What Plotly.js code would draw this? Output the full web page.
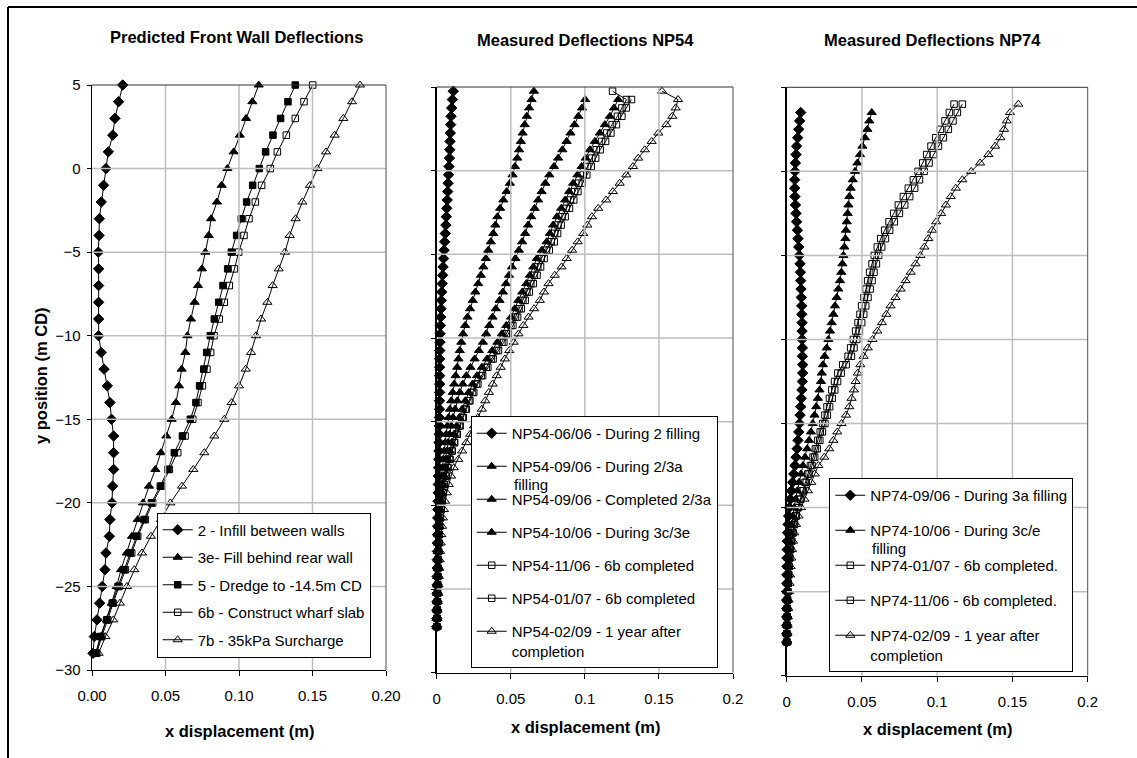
<!DOCTYPE html>
<html>
<head>
<meta charset="utf-8">
<script src="https://cdn.plot.ly/plotly-3.0.1.min.js"></script>
<style>html,body{margin:0;padding:0;background:#fff;}#chart{width:1137px;height:758px;}</style>
</head>
<body>
<div id="chart"></div>
<script>
// ---------------- DATA ----------------
// Panel 1: predicted (y every 1 m)
const yPred = [5,4,3,2,1,0,-1,-2,-3,-4,-5,-6,-7,-8,-9,-10,-11,-12,-13,-14,-15,-16,-17,-18,-19,-20,-21,-22,-23,-24,-25,-26,-27,-28,-29];
const pred2  = [0.0209,0.0181,0.0156,0.0141,0.0111,0.0095,0.0079,0.0063,0.0050,0.0048,0.0043,0.0045,0.0045,0.0045,0.0045,0.0045,0.0063,0.0082,0.0104,0.0122,0.0133,0.0147,0.0147,0.0147,0.0140,0.0136,0.0122,0.0118,0.0095,0.0088,0.0070,0.0052,0.0034,0.0016,0.0007];
const pred3e = [0.1134,0.1091,0.1048,0.1005,0.0964,0.0921,0.0882,0.0850,0.0810,0.0794,0.0771,0.0748,0.0721,0.0698,0.0673,0.0649,0.0635,0.0610,0.0592,0.0571,0.0542,0.0506,0.0469,0.0431,0.0388,0.0347,0.0311,0.0272,0.0236,0.0197,0.0168,0.0134,0.0100,0.0061,0.0025];
const pred5  = [0.1383,0.1333,0.1283,0.1231,0.1181,0.1138,0.1093,0.1052,0.1016,0.0984,0.0948,0.0923,0.0891,0.0862,0.0832,0.0805,0.0780,0.0760,0.0732,0.0707,0.0669,0.0615,0.0560,0.0517,0.0465,0.0404,0.0354,0.0304,0.0261,0.0218,0.0177,0.0138,0.0100,0.0057,0.0025];
const pred6b = [0.1501,0.1442,0.1383,0.1322,0.1261,0.1213,0.1154,0.1111,0.1068,0.1034,0.0998,0.0969,0.0934,0.0900,0.0866,0.0830,0.0807,0.0782,0.0751,0.0721,0.0685,0.0633,0.0583,0.0526,0.0474,0.0413,0.0363,0.0311,0.0270,0.0227,0.0184,0.0143,0.0107,0.0066,0.0032];
const pred7b = [0.1823,0.1769,0.1710,0.1651,0.1592,0.1533,0.1483,0.1431,0.1385,0.1345,0.1313,0.1270,0.1229,0.1193,0.1150,0.1116,0.1082,0.1046,0.1000,0.0950,0.0900,0.0832,0.0764,0.0689,0.0612,0.0533,0.0469,0.0401,0.0340,0.0288,0.0238,0.0190,0.0145,0.0091,0.0045];
const predNames = ["2 - Infill between walls","3e- Fill behind rear wall","5 - Dredge to -14.5m CD","6b - Construct wharf slab","7b - 35kPa Surcharge"];

// Panel 2: NP54 measured (y every 0.5 m)
const y54 = [4.75,4.25,3.75,3.25,2.75,2.25,1.75,1.25,0.75,0.25,
 -0.25,-0.75,-1.25,-1.75,-2.25,-2.75,-3.25,-3.75,-4.25,-4.75,
 -5.25,-5.75,-6.25,-6.75,-7.25,-7.75,-8.25,-8.75,-9.25,-9.75,
 -10.25,-10.75,-11.25,-11.75,-12.25,-12.75,-13.25,-13.75,-14.25,-14.75,
 -15.25,-15.75,-16.25,-16.75,-17.25,-17.75,-18.25,-18.75,-19.25,-19.75,
 -20.25,-20.75,-21.25,-21.75,-22.25,-22.75,-23.25,-23.75,-24.25,-24.75,
 -25.25,-25.75,-26.25,-26.75,-27.25];
const np54_0606 = [0.0112,0.0106,0.0101,0.0097,0.0094,0.0092,0.0090,0.0088,0.0086,0.0083,
 0.0080,0.0077,0.0074,0.0071,0.0068,0.0065,0.0062,0.0058,0.0054,0.0050,
 0.0046,0.0043,0.0040,0.0037,0.0034,0.0031,0.0029,0.0027,0.0025,0.0023,
 0.0022,0.0021,0.0020,0.0020,0.0020,0.0020,0.0020,0.0019,0.0019,0.0018,
 0.0018,0.0017,0.0016,0.0015,0.0014,0.0013,0.0012,0.0011,0.0010,0.0009,
 0.0008,0.0007,0.0006,0.0006,0.0005,0.0005,0.0004,0.0004,0.0003,0.0003,
 0.0002,0.0002,0.0001,0.0001,0.0000];
const np54_0906a = [0.0656,0.0640,0.0624,0.0608,0.0594,0.0580,0.0568,0.0556,0.0544,0.0528,
 0.0512,0.0494,0.0472,0.0450,0.0428,0.0410,0.0396,0.0382,0.0365,0.0348,
 0.0332,0.0315,0.0298,0.0280,0.0261,0.0243,0.0225,0.0208,0.0192,0.0178,
 0.0166,0.0156,0.0147,0.0138,0.0128,0.0118,0.0108,0.0098,0.0089,0.0080,
 0.0072,0.0064,0.0057,0.0050,0.0044,0.0038,0.0033,0.0028,0.0024,0.0020,
 0.0017,0.0014,0.0012,0.0010,0.0009,0.0008,0.0007,0.0006,0.0005,0.0004,
 0.0004,0.0003,0.0002,0.0001,0.0000];
const np54_0906b = [null,0.1002,0.0981,0.0956,0.0930,0.0903,0.0877,0.0848,0.0820,0.0792,
 0.0760,0.0733,0.0708,0.0685,0.0661,0.0638,0.0617,0.0597,0.0577,0.0555,
 0.0531,0.0508,0.0488,0.0468,0.0447,0.0424,0.0399,0.0377,0.0355,0.0334,
 0.0312,0.0285,0.0256,0.0228,0.0200,0.0176,0.0156,0.0139,0.0124,0.0110,
 0.0098,0.0087,0.0077,0.0068,0.0060,0.0052,0.0045,0.0039,0.0033,0.0028,
 0.0024,0.0020,0.0017,0.0014,0.0012,0.0010,0.0009,0.0008,0.0007,0.0006,
 0.0005,0.0004,0.0003,0.0002,0.0001];
const np54_1006 = [null,0.1225,0.1197,0.1169,0.1135,0.1101,0.1068,0.1034,0.1006,0.0978,
 0.0950,0.0921,0.0894,0.0867,0.0840,0.0812,0.0786,0.0764,0.0742,0.0710,
 0.0676,0.0652,0.0629,0.0605,0.0578,0.0551,0.0526,0.0502,0.0470,0.0440,
 0.0410,0.0375,0.0340,0.0305,0.0272,0.0242,0.0216,0.0193,0.0172,0.0153,
 0.0135,0.0118,0.0102,0.0088,0.0075,0.0063,0.0052,0.0043,0.0035,0.0029,
 0.0024,0.0020,0.0016,0.0013,0.0011,0.0009,0.0008,0.0007,0.0006,0.0005,
 0.0004,0.0003,0.0002,0.0001,0.0001];
const np54_1106 = [0.1187,0.1281,0.1250,0.1220,0.1184,0.1148,0.1113,0.1077,0.1047,0.1018,
 0.0989,0.0959,0.0931,0.0903,0.0875,0.0846,0.0819,0.0796,0.0773,0.0741,
 0.0706,0.0682,0.0659,0.0635,0.0608,0.0581,0.0556,0.0532,0.0500,0.0470,
 0.0440,0.0404,0.0369,0.0334,0.0300,0.0269,0.0242,0.0217,0.0194,0.0174,
 0.0154,0.0135,0.0118,0.0102,0.0087,0.0074,0.0062,0.0051,0.0042,0.0035,
 0.0029,0.0024,0.0019,0.0016,0.0013,0.0011,0.0009,0.0008,0.0007,0.0006,
 0.0005,0.0004,0.0003,0.0002,0.0001];
const np54_0107 = [null,0.1315,0.1280,0.1250,0.1213,0.1176,0.1140,0.1103,0.1073,0.1043,
 0.1013,0.0982,0.0953,0.0925,0.0896,0.0867,0.0840,0.0816,0.0793,0.0760,
 0.0725,0.0701,0.0677,0.0652,0.0625,0.0597,0.0571,0.0546,0.0514,0.0484,
 0.0453,0.0417,0.0381,0.0345,0.0310,0.0278,0.0250,0.0224,0.0200,0.0179,
 0.0158,0.0139,0.0121,0.0105,0.0090,0.0076,0.0064,0.0053,0.0044,0.0036,
 0.0030,0.0025,0.0020,0.0017,0.0014,0.0012,0.0010,0.0009,0.0008,0.0007,
 0.0006,0.0005,0.0004,0.0003,0.0002];
const np54_0209 = [0.1521,0.1629,0.1613,0.1590,0.1550,0.1496,0.1451,0.1405,0.1360,0.1325,
 0.1280,0.1235,0.1189,0.1144,0.1090,0.1048,0.1017,0.0989,0.0952,0.0914,
 0.0877,0.0843,0.0797,0.0755,0.0724,0.0696,0.0658,0.0620,0.0585,0.0552,
 0.0520,0.0490,0.0460,0.0432,0.0405,0.0378,0.0352,0.0328,0.0305,0.0278,
 0.0252,0.0226,0.0200,0.0172,0.0146,0.0115,0.0097,0.0081,0.0068,0.0057,
 0.0049,0.0042,0.0036,0.0031,0.0027,0.0023,0.0020,0.0017,0.0014,0.0012,
 0.0010,0.0008,0.0006,0.0004,0.0002];
const np54Names = ["NP54-06/06 - During 2 filling","NP54-09/06 - During 2/3a","NP54-09/06 - Completed 2/3a","NP54-10/06 - During 3c/3e","NP54-11/06 - 6b completed","NP54-01/07 - 6b completed","NP54-02/09 - 1 year after<br>completion"];

// Panel 3: NP74 measured (y every 0.5 m)
const y74 = [4,3.5,3,2.5,2,1.5,1,0.5,0,-0.5,
 -1,-1.5,-2,-2.5,-3,-3.5,-4,-4.5,-5,-5.5,
 -6,-6.5,-7,-7.5,-8,-8.5,-9,-9.5,-10,-10.5,
 -11,-11.5,-12,-12.5,-13,-13.5,-14,-14.5,-15,-15.5,
 -16,-16.5,-17,-17.5,-18,-18.5,-19,-19.5,-20,-20.5,
 -21,-21.5,-22,-22.5,-23,-23.5,-24,-24.5,-25,-25.5,
 -26,-26.5,-27,-27.5,-28];
const np74_0906 = [null,0.0093,0.0086,0.0080,0.0073,0.0066,0.0062,0.0058,0.0055,0.0053,
 0.0053,0.0055,0.0058,0.0062,0.0066,0.0071,0.0075,0.0080,0.0084,0.0089,
 0.0091,0.0093,0.0095,0.0097,0.0100,0.0100,0.0102,0.0102,0.0102,0.0104,
 0.0104,0.0106,0.0106,0.0104,0.0101,0.0097,0.0093,0.0089,0.0085,0.0080,
 0.0075,0.0069,0.0062,0.0055,0.0047,0.0039,0.0031,0.0024,0.0018,0.0013,
 0.0009,0.0006,0.0004,0.0003,0.0002,0.0002,0.0001,0.0001,0.0001,0.0000,
 0.0000,0.0000,0.0000,0.0000,0.0000];
const np74_1006 = [null,0.0565,0.0549,0.0536,0.0520,0.0503,0.0487,0.0470,0.0454,0.0439,
 0.0425,0.0416,0.0410,0.0405,0.0399,0.0394,0.0390,0.0383,0.0377,0.0370,
 0.0363,0.0354,0.0343,0.0332,0.0321,0.0310,0.0299,0.0288,0.0277,0.0266,
 0.0252,0.0241,0.0233,0.0228,0.0218,0.0207,0.0196,0.0185,0.0173,0.0161,
 0.0149,0.0136,0.0122,0.0108,0.0095,0.0082,0.0070,0.0059,0.0049,0.0040,
 0.0032,0.0025,0.0019,0.0014,0.0010,0.0008,0.0006,0.0005,0.0004,0.0003,
 0.0002,0.0002,0.0001,0.0001,0.0000];
const np74_0107 = [0.1112,0.1081,0.1052,0.1021,0.0990,0.0959,0.0930,0.0904,0.0873,0.0842,
 0.0808,0.0775,0.0742,0.0711,0.0680,0.0651,0.0625,0.0602,0.0582,0.0567,
 0.0551,0.0538,0.0527,0.0514,0.0498,0.0487,0.0474,0.0458,0.0443,0.0425,
 0.0408,0.0372,0.0340,0.0318,0.0300,0.0284,0.0268,0.0254,0.0239,0.0223,
 0.0207,0.0191,0.0175,0.0158,0.0140,0.0122,0.0104,0.0088,0.0073,0.0060,
 0.0049,0.0039,0.0031,0.0024,0.0019,0.0015,0.0012,0.0009,0.0007,0.0005,
 0.0004,0.0003,0.0002,0.0001,0.0001];
const np74_1106 = [0.1167,0.1134,0.1105,0.1074,0.1041,0.1008,0.0975,0.0946,0.0913,0.0882,
 0.0850,0.0817,0.0784,0.0749,0.0715,0.0684,0.0656,0.0631,0.0611,0.0596,
 0.0580,0.0567,0.0554,0.0540,0.0525,0.0512,0.0498,0.0483,0.0465,0.0447,
 0.0430,0.0395,0.0362,0.0338,0.0319,0.0302,0.0285,0.0270,0.0254,0.0237,
 0.0220,0.0203,0.0186,0.0168,0.0149,0.0130,0.0111,0.0094,0.0078,0.0064,
 0.0052,0.0042,0.0033,0.0026,0.0020,0.0016,0.0013,0.0010,0.0008,0.0006,
 0.0004,0.0003,0.0002,0.0001,0.0001];
const np74_0209 = [0.1539,0.1484,0.1462,0.1444,0.1420,0.1385,0.1340,0.1285,0.1226,0.1167,
 0.1124,0.1090,0.1058,0.1026,0.0993,0.0966,0.0941,0.0915,0.0888,0.0856,
 0.0824,0.0790,0.0757,0.0723,0.0690,0.0662,0.0633,0.0602,0.0570,0.0539,
 0.0511,0.0489,0.0472,0.0458,0.0446,0.0431,0.0416,0.0394,0.0364,0.0336,
 0.0310,0.0283,0.0250,0.0210,0.0186,0.0163,0.0141,0.0118,0.0096,0.0078,
 0.0062,0.0050,0.0042,0.0036,0.0031,0.0026,0.0022,0.0019,0.0016,0.0013,
 0.0010,0.0008,0.0006,0.0004,0.0002];
const np74Names = ["NP74-09/06 - During 3a filling","NP74-10/06 - During 3c/e","NP74-01/07 - 6b completed.","NP74-11/06 - 6b completed.","NP74-02/09 - 1 year after<br>completion"];

const panelTitles = ["Predicted Front Wall Deflections","Measured Deflections NP54","Measured Deflections NP74"];
const xTitle = "x displacement (m)";
const yTitle = "y position (m CD)";
const wrapTail = "filling";
const xTicks = [0, 0.05, 0.1, 0.15, 0.2];
const yTicks = [5, 0, -5, -10, -15, -20, -25, -30];

// ---------------- STYLE / LAYOUT ----------------
const W = 1137, H = 758;
const px = v => v / W;
const py = v => 1 - v / H;
const FONT = "Liberation Sans, Arial, sans-serif";
const GRID = '#bdbdbd';

const SYM = {
  dia:  {symbol:'diamond', size:8},
  tri:  {symbol:'triangle-up', size:8},
  sq:   {symbol:'square', size:6.5},
  sqo:  {symbol:'square-open', size:6.5},
  trio: {symbol:'triangle-up-open', size:8}
};

const traces = [];
function add(xs, ys, name, s, ax, lg, gi) {
  traces.push({
    type:'scatter', mode:'lines+markers', x:xs, y:ys, name:name,
    xaxis:'x'+ax, yaxis:'y'+ax, legend:lg, legendgroup:lg+'_'+gi,
    cliponaxis:false, connectgaps:false,
    line:{color:'#000', width:1},
    marker:{symbol:SYM[s].symbol, size:SYM[s].size, color:'#000', line:{color:'#000', width:1}}
  });
}
const predSeries = [pred2, pred3e, pred5, pred6b, pred7b];
const predSyms = ['dia','tri','sq','sqo','trio'];
predSeries.forEach((s,i)=>add(s, yPred, predNames[i], predSyms[i], '', 'legend', i));

const np54Series = [np54_0606, np54_0906a, np54_0906b, np54_1006, np54_1106, np54_0107, np54_0209];
const np54Syms = ['dia','tri','tri','tri','sqo','sqo','trio'];
np54Series.forEach((s,i)=>add(s, y54, np54Names[i], np54Syms[i], '2', 'legend2', i));

const np74Series = [np74_0906, np74_1006, np74_0107, np74_1106, np74_0209];
const np74Syms = ['dia','tri','sqo','sqo','trio'];
np74Series.forEach((s,i)=>add(s, y74, np74Names[i], np74Syms[i], '3', 'legend3', i));

function xax(d, anchor, fmt) {
  return {domain:d, anchor:anchor, range:[0,0.2], tickmode:'array', tickvals:xTicks, tickformat:fmt,
    showgrid:false, zeroline:false,
    showline:true, linecolor:'#000', linewidth:1.3, ticks:'outside', ticklen:5, tickcolor:'#000', tickwidth:1,
    ticklabelstandoff:7, tickfont:{family:FONT, size:15, color:'#000'}, fixedrange:true};
}
function yax(d, anchor, labels) {
  return {domain:d, anchor:anchor, range:[-30,5], tickmode:'array', tickvals:yTicks,
    showgrid:false, zeroline:false,
    showline:true, linecolor:'#000', linewidth:1.3, ticks:'outside', ticklen:4, tickcolor:'#000', tickwidth:1,
    showticklabels:labels, ticklabelstandoff:3, tickfont:{family:FONT, size:15, color:'#000'}, fixedrange:true};
}
function legendBox(x, y, gap) {
  return {x:px(x), y:py(y), xanchor:'left', yanchor:'top', xref:'paper', yref:'paper',
    bgcolor:'#fff', bordercolor:'#000', borderwidth:1, traceorder:'grouped', tracegroupgap:gap,
    valign:'top', font:{family:FONT, size:15, color:'#000'}};
}
function ann(text, x, y, size, bold, extra) {
  return Object.assign({text: bold ? '<b>'+text+'</b>' : text, x:px(x), y:py(y), xref:'paper', yref:'paper',
    showarrow:false, xanchor:'center', yanchor:'middle', font:{family:FONT, size:size, color:'#000'}}, extra||{});
}
// grid lines as axis-referenced shapes at the tick values
function gridShapes(ax) {
  const out = [];
  xTicks.slice(1, -1).forEach(v => out.push({type:'line', xref:'x'+ax, yref:'y'+ax+' domain', x0:v, x1:v, y0:0, y1:1,
    line:{color:GRID, width:1.5}, layer:'above'}));
  yTicks.slice(1, -1).forEach(v => out.push({type:'line', xref:'x'+ax+' domain', yref:'y'+ax, x0:0, x1:1, y0:v, y1:v,
    line:{color:GRID, width:1.5}, layer:'above'}));
  return out;
}

const layout = {
  width:W, height:H, margin:{l:0,r:0,t:0,b:0}, paper_bgcolor:'#fff', plot_bgcolor:'#fff',
  showlegend:true, font:{family:FONT, color:'#000'},
  xaxis:  xax([px(92), px(386)], 'y', '.2f'),
  yaxis:  yax([py(670), py(85)], 'x', true),
  xaxis2: xax([px(436.7), px(733)], 'y2', ''),
  yaxis2: yax([py(672.7), py(87)], 'x2', false),
  xaxis3: xax([px(786.7), px(1087.7)], 'y3', ''),
  yaxis3: yax([py(675.7), py(87.3)], 'x3', false),
  legend:  legendBox(156.7, 512.5, 5),
  legend2: legendBox(470.7, 416, 10.5),
  legend3: legendBox(829.3, 478, 12.5),
  shapes:[].concat(gridShapes(''), gridShapes('2'), gridShapes('3'), [
    {type:'line', xref:'paper', yref:'paper', x0:px(386), x1:px(386), y0:py(670), y1:py(85), line:{color:'#505050', width:1}},
    {type:'line', xref:'paper', yref:'paper', x0:px(92), x1:px(386), y0:py(85), y1:py(85), line:{color:'#303030', width:1}},
    {type:'line', xref:'paper', yref:'paper', x0:px(733), x1:px(733), y0:py(672.7), y1:py(87), line:{color:'#505050', width:1}},
    {type:'line', xref:'paper', yref:'paper', x0:px(436.7), x1:px(733), y0:py(87), y1:py(87), line:{color:'#303030', width:1}},
    {type:'line', xref:'paper', yref:'paper', x0:px(1087.7), x1:px(1087.7), y0:py(675.7), y1:py(87.3), line:{color:'#505050', width:1}},
    {type:'line', xref:'paper', yref:'paper', x0:px(786.7), x1:px(1087.7), y0:py(87.3), y1:py(87.3), line:{color:'#303030', width:1}},
    {type:'line', xref:'paper', yref:'paper', x0:px(8), x1:1, y0:py(7), y1:py(7), line:{color:'#000', width:2}},
    {type:'line', xref:'paper', yref:'paper', x0:px(8), x1:px(8), y0:py(7), y1:0, line:{color:'#000', width:2}}
  ]),
  annotations:[
    ann(panelTitles[0], 236, 37, 16.5, true),
    ann(panelTitles[1], 585.3, 40, 16.5, true),
    ann(panelTitles[2], 932.8, 40, 16.5, true),
    ann(xTitle, 239.2, 730.7, 16.5, true),
    ann(xTitle, 585.8, 726.7, 16.5, true),
    ann(xTitle, 937.5, 729.3, 16.5, true),
    ann(yTitle, 41, 376, 16.5, true, {textangle:-90}),
    ann(wrapTail, 512, 484, 15, false, {xanchor:'left'}),
    ann(wrapTail, 870, 548, 15, false, {xanchor:'left'})
  ]
};

Plotly.newPlot('chart', traces, layout, {displayModeBar:false, staticPlot:true});
</script>
</body>
</html>
